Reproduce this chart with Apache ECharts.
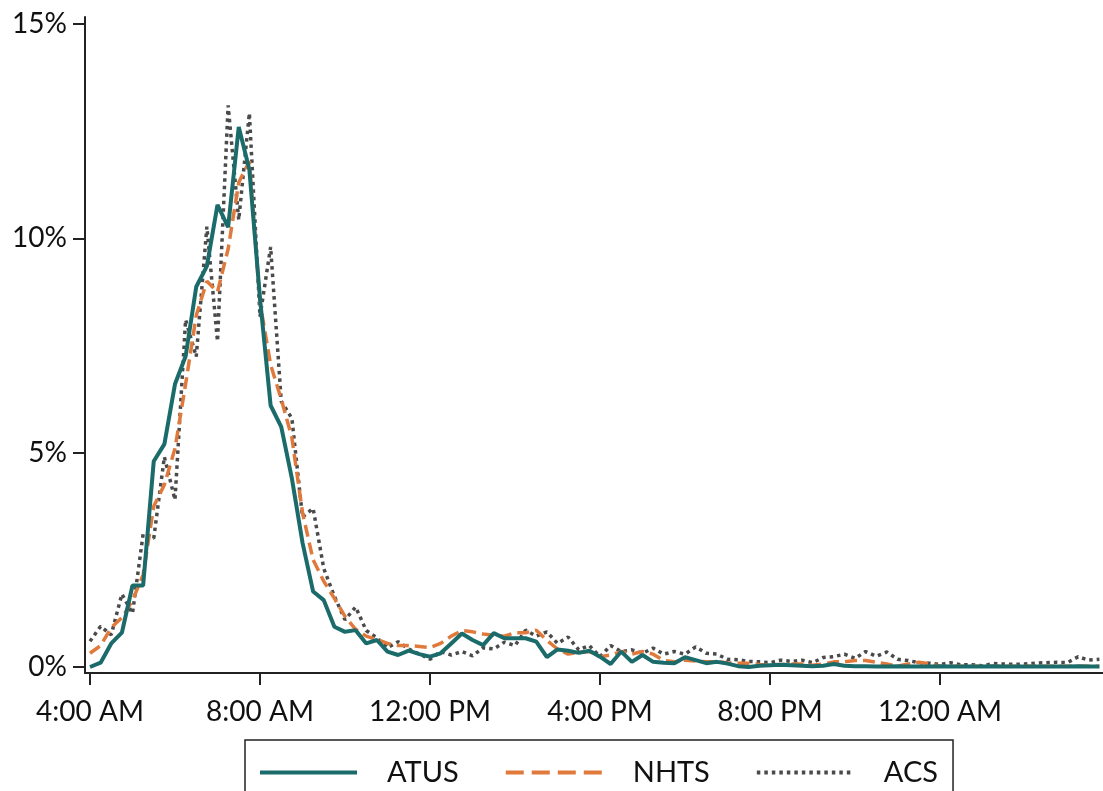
<!DOCTYPE html>
<html>
<head>
<meta charset="utf-8">
<style>
  html, body { margin: 0; padding: 0; background: #fff; }
  #chart { width: 1103px; height: 791px; }
</style>
<script src="https://cdn.jsdelivr.net/npm/echarts@6/dist/echarts.min.js"></script>
</head>
<body>
<div id="chart"></div>
<script>
// 15-minute departure slots, slot 0 = 4:00 AM
var tickSlots = [0, 16, 32, 48, 64, 80];
var tickLabels = ['4:00 AM', '8:00 AM', '12:00 PM', '4:00 PM', '8:00 PM', '12:00 AM'];
var yTicks = [0, 5, 10, 15];

var atus = [
  0.0, 0.1, 0.55, 0.8, 1.9, 1.9, 4.8, 5.2, 6.6, 7.25,
  8.87, 9.35, 10.78, 10.26, 12.6, 11.6, 8.6, 6.1, 5.6, 4.4,
  2.9, 1.76, 1.56, 0.94, 0.82, 0.86, 0.55, 0.63, 0.36, 0.28,
  0.38, 0.3, 0.24, 0.32, 0.55, 0.78, 0.63, 0.51, 0.79, 0.67,
  0.67, 0.67, 0.59, 0.23, 0.41, 0.38, 0.33, 0.38, 0.24, 0.07,
  0.36, 0.12, 0.28, 0.12, 0.1, 0.09, 0.23, 0.16, 0.09, 0.12,
  0.08, 0.02, 0.0, 0.03, 0.04, 0.05, 0.04, 0.03, 0.02, 0.03,
  0.07, 0.03, 0.02, 0.02, 0.01, 0.01, 0.02, 0.01, 0.01, 0.01,
  0.02, 0.01, 0.01, 0.01, 0.01, 0.02, 0.01, 0.01, 0.01, 0.01,
  0.01, 0.01, 0.01, 0.02, 0.01, 0.01
];
var nhts = [
  0.32, 0.5, 0.92, 1.15, 1.55, 2.15, 3.75, 4.25, 5.1, 6.6,
  8.2, 9.0, 8.75, 9.75, 11.3, 11.8, 8.5, 7.05, 6.25, 5.35,
  3.6, 2.5, 2.0, 1.6, 1.18, 0.88, 0.72, 0.64, 0.55, 0.5,
  0.5, 0.48, 0.45, 0.55, 0.72, 0.85, 0.82, 0.77, 0.74, 0.72,
  0.8, 0.8, 0.86, 0.62, 0.42, 0.3, 0.34, 0.36, 0.24, 0.28,
  0.36, 0.3, 0.36, 0.3, 0.15, 0.12, 0.16, 0.14, 0.12, 0.12,
  0.1, 0.09, 0.09, 0.06, 0.05, 0.06, 0.07, 0.07, 0.04, 0.07,
  0.12, 0.12, 0.15, 0.15, 0.11, 0.07, 0.02, 0.07, 0.11, 0.08,
  0.02, 0.02, 0.02, 0.02, 0.02, 0.02, 0.02, 0.02, 0.02, 0.02,
  0.02, 0.02, 0.02, 0.02, 0.02, 0.02
];
var acs = [
  0.6, 0.95, 0.75, 1.7, 1.25, 3.1, 3.0, 4.9, 3.9, 8.1,
  7.24, 10.27, 7.6, 13.1, 10.43, 12.92, 8.17, 9.8, 6.2, 5.8,
  3.5, 3.7, 2.3, 1.65, 1.1, 1.4, 0.85, 0.68, 0.45, 0.59,
  0.42, 0.3, 0.18, 0.36, 0.28, 0.36, 0.26, 0.45, 0.42, 0.58,
  0.5, 0.86, 0.72, 0.82, 0.55, 0.7, 0.4, 0.5, 0.24, 0.5,
  0.36, 0.4, 0.32, 0.44, 0.3, 0.36, 0.3, 0.47, 0.32, 0.3,
  0.18, 0.17, 0.13, 0.12, 0.1, 0.16, 0.13, 0.16, 0.1, 0.22,
  0.24, 0.3, 0.2, 0.36, 0.25, 0.35, 0.18, 0.15, 0.1, 0.09,
  0.06, 0.1, 0.05, 0.05, 0.03, 0.08, 0.07, 0.06, 0.07, 0.09,
  0.1, 0.11, 0.1, 0.24, 0.16, 0.18
];

function pairs(arr) {
  return arr.map(function (v, i) { return [i, v]; });
}

var font = 'Lato, "DejaVu Sans", sans-serif';
var tealColor = '#1b6b6b';
var orangeColor = '#e07a3c';
var greyColor = '#4a4a4a';
var chart = echarts.init(document.getElementById('chart'));

chart.setOption({
  animation: false,
  backgroundColor: '#fff',
  grid: { left: 85, right: 0, top: 17, bottom: 118 },
  xAxis: {
    type: 'value',
    min: -0.47,
    max: 95.34,
    splitLine: { show: false },
    axisLine: { show: true, onZero: false, lineStyle: { color: '#222', width: 2 } },
    axisTick: { show: true, length: 12, customValues: tickSlots, lineStyle: { color: '#222', width: 2 } },
    axisLabel: {
      customValues: tickSlots,
      margin: 25,
      fontSize: 28,
      fontFamily: font,
      color: '#111',
      formatter: function (v) { return tickLabels[tickSlots.indexOf(v)]; }
    }
  },
  yAxis: {
    type: 'value',
    min: -0.14,
    max: 15.163,
    splitLine: { show: false },
    axisLine: { show: true, onZero: false, lineStyle: { color: '#222', width: 2 } },
    axisTick: { show: true, length: 12, customValues: yTicks, lineStyle: { color: '#222', width: 2 } },
    axisLabel: {
      customValues: yTicks,
      margin: 18,
      fontSize: 28,
      fontFamily: font,
      color: '#111',
      formatter: function (v) { return v + '%'; }
    }
  },
  legend: {
    left: 245,
    top: 740,
    itemWidth: 97,
    itemHeight: 20,
    itemGap: 45,
    padding: [18, 15, 40, 13],
    borderColor: '#222',
    borderWidth: 1.5,
    itemStyle: { opacity: 0 },
    textStyle: { fontSize: 29, fontFamily: font, color: '#111', padding: [0, 0, 0, 25], lineHeight: 29 },
    data: [
      { name: 'ATUS', lineStyle: { width: 4, color: tealColor } },
      { name: 'NHTS', lineStyle: { width: 4, color: orangeColor, type: [18, 8] } },
      { name: 'ACS', lineStyle: { width: 4, color: greyColor, type: [3.5, 4] } }
    ]
  },
  series: [
    {
      name: 'ACS',
      type: 'line',
      data: pairs(acs),
      showSymbol: false,
      symbol: 'none',
      z: 2,
      lineStyle: { color: greyColor, width: 3.5, type: [3.5, 4], cap: 'butt' },
      itemStyle: { color: greyColor }
    },
    {
      name: 'NHTS',
      type: 'line',
      data: pairs(nhts),
      showSymbol: false,
      symbol: 'none',
      z: 3,
      lineStyle: { color: orangeColor, width: 3.5, type: [12, 6] },
      itemStyle: { color: orangeColor }
    },
    {
      name: 'ATUS',
      type: 'line',
      data: pairs(atus),
      showSymbol: false,
      symbol: 'none',
      z: 4,
      lineStyle: { color: tealColor, width: 4 },
      itemStyle: { color: tealColor }
    }
  ]
});
</script>
</body>
</html>
